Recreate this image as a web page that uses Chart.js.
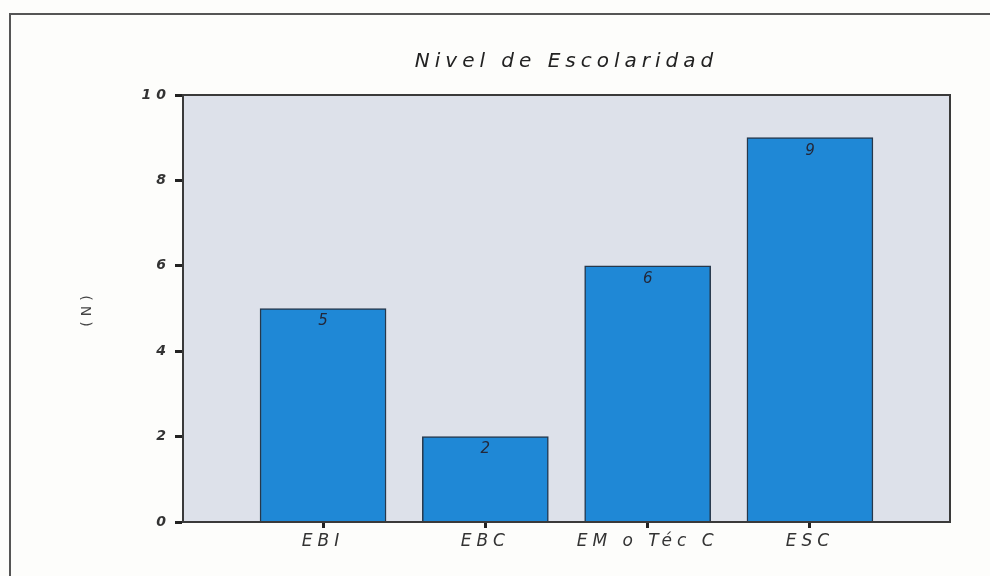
<!DOCTYPE html>
<html lang="es">
<head>
<meta charset="UTF-8">
<title>Nivel de Escolaridad</title>
<script src="https://cdn.jsdelivr.net/npm/chart.js"></script>
<style>
  html, body { margin: 0; padding: 0; background: #fdfdfb; }
  #wrap { width: 990px; height: 576px; }
</style>
</head>
<body>
<div id="wrap"><canvas id="grafico"></canvas></div>
<script>
  const categorias = ["EBI", "EBC", "EM o Téc C", "ESC"];
  const valores = [5, 2, 6, 9];
  const marcasY = [0, 2, 4, 6, 8, 10];

  const fuente = "'DejaVu Sans', sans-serif";
  const espacio = '5px';

  // espaciado de letras, fondo del área y marco exterior
  const decoracion = {
    id: 'decoracion',
    beforeUpdate(chart) { chart.ctx.letterSpacing = espacio; },
    afterLayout(chart) {
      // el título se centra sobre el área de trazado
      chart.titleBlock.left = chart.chartArea.left;
      chart.titleBlock.right = chart.chartArea.right;
    },
    beforeDraw(chart) {
      const { ctx, chartArea: a } = chart;
      ctx.save();
      ctx.fillStyle = '#dde1ea';
      ctx.fillRect(a.left, a.top, a.right - a.left, a.bottom - a.top);
      ctx.strokeStyle = '#555';
      ctx.lineWidth = 2;
      ctx.strokeRect(10, 14, 1000, 600);
      ctx.restore();
      ctx.letterSpacing = espacio;
    },
    afterDraw(chart) {
      const { ctx, chartArea: a } = chart;
      ctx.save();
      ctx.strokeStyle = '#3a3a3a';
      ctx.lineWidth = 2;
      ctx.strokeRect(a.left, a.top, a.right - a.left, a.bottom - a.top);
      ctx.restore();
    }
  };

  // valor dentro de la parte superior de cada barra
  const etiquetas = {
    id: 'etiquetas',
    afterDatasetsDraw(chart) {
      const ctx = chart.ctx;
      ctx.save();
      ctx.letterSpacing = '0px';
      ctx.font = 'italic 15px ' + fuente;
      ctx.fillStyle = '#23283a';
      ctx.textAlign = 'center';
      ctx.textBaseline = 'middle';
      chart.getDatasetMeta(0).data.forEach((bar, i) => {
        ctx.fillText(String(valores[i]), bar.x, bar.y + 13);
      });
      ctx.restore();
    }
  };

  new Chart(document.getElementById('grafico'), {
    type: 'bar',
    data: {
      datasets: [{
        data: valores.map((v, i) => ({ x: i + 1, y: v })),
        backgroundColor: '#1f88d6',
        borderColor: '#26384c',
        borderWidth: 1.5,
        barThickness: 126
      }]
    },
    options: {
      responsive: true,
      maintainAspectRatio: false,
      animation: false,
      layout: { padding: { top: 50, left: 75, right: 40, bottom: 0 } },
      plugins: {
        legend: { display: false },
        tooltip: { enabled: false },
        title: {
          display: true,
          text: 'Nivel de Escolaridad',
          color: '#222',
          font: { family: fuente, size: 20, style: 'italic', weight: 'normal' },
          padding: { top: 0, bottom: 21 }
        }
      },
      scales: {
        x: {
          type: 'linear',
          offset: false,
          min: 0.137,
          max: 4.863,
          afterBuildTicks: s => { s.ticks = categorias.map((c, i) => ({ value: i + 1 })); },
          afterFit: s => { s.height = 54; },
          grid: { offset: false, drawOnChartArea: false, tickLength: 6, tickWidth: 3, tickColor: '#222' },
          border: { display: true, color: '#3a3a3a', width: 2 },
          ticks: {
            autoSkip: false,
            maxRotation: 0,
            padding: 3,
            color: '#333',
            font: { family: fuente, size: 17, style: 'italic' },
            callback: v => categorias[v - 1]
          }
        },
        y: {
          min: 0,
          max: 10,
          afterBuildTicks: s => { s.ticks = marcasY.map(v => ({ value: v })); },
          afterFit: s => { s.width = 108; },
          grid: { drawOnChartArea: false, tickLength: 8, tickWidth: 3, tickColor: '#222' },
          border: { display: true, color: '#3a3a3a', width: 2 },
          ticks: {
            padding: 4,
            color: '#333',
            font: { family: fuente, size: 14, style: 'italic', weight: 'bold' }
          },
          title: {
            display: true,
            text: '(N)',
            color: '#444',
            padding: 4,
            font: { family: fuente, size: 14 }
          }
        }
      }
    },
    plugins: [decoracion, etiquetas]
  });
</script>
</body>
</html>
